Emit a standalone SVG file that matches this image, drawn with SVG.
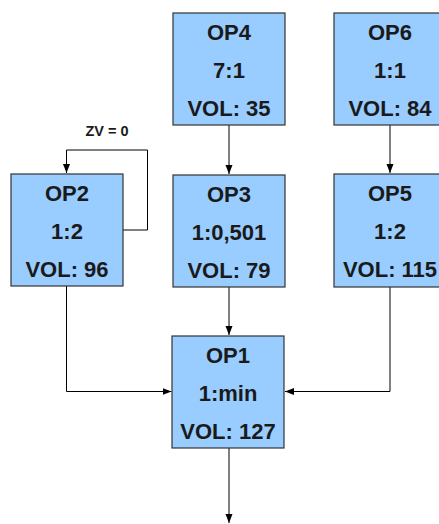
<svg xmlns="http://www.w3.org/2000/svg" width="439" height="524" viewBox="0 0 439 524">
<style>
.box{fill:#99ccff;stroke:#333333;stroke-width:1.2}
.t{font-family:"Liberation Sans",Arial,sans-serif;font-weight:bold;font-size:22px;fill:#1a1a1a;text-anchor:middle}
.lbl{font-family:"Liberation Sans",Arial,sans-serif;font-weight:bold;font-size:14.5px;fill:#1a1a1a;text-anchor:middle}
.c{fill:none;stroke:#000;stroke-width:1}
</style>
<defs>
<marker id="ah" markerWidth="10" markerHeight="10" refX="9" refY="5" orient="auto" markerUnits="userSpaceOnUse">
<path d="M0,1.5 L9,5 L0,8.5 Z" fill="#000"/>
</marker>
</defs>
<g id="connectors">
<path class="c" d="M123,230 H147.5 V150 H66.5 V173" marker-end="url(#ah)"/>
<path class="c" d="M229,125 V174" marker-end="url(#ah)"/>
<path class="c" d="M390,125 V173" marker-end="url(#ah)"/>
<path class="c" d="M229,287 V335" marker-end="url(#ah)"/>
<path class="c" d="M66.5,286 V391.5 H171.5" marker-end="url(#ah)"/>
<path class="c" d="M390,287 V391.5 H285" marker-end="url(#ah)"/>
<path class="c" d="M229,448 V523" marker-end="url(#ah)"/>
<text class="lbl" x="107" y="135.5">ZV = 0</text>
</g>
<g id="OP4">
<rect class="box" x="173" y="13" width="112" height="112"/>
<text class="t" x="229" y="40">OP4</text>
<text class="t" x="229" y="77.5">7:1</text>
<text class="t" x="229" y="116">VOL: 35</text>
</g>
<g id="OP6">
<rect class="box" x="334" y="13" width="112" height="112"/>
<text class="t" x="390" y="40">OP6</text>
<text class="t" x="390" y="77.5">1:1</text>
<text class="t" x="390" y="116">VOL: 84</text>
</g>
<g id="OP2">
<rect class="box" x="11" y="174" width="112" height="112"/>
<text class="t" x="67" y="200.5">OP2</text>
<text class="t" x="67" y="239">1:2</text>
<text class="t" x="67" y="277">VOL: 96</text>
</g>
<g id="OP3">
<rect class="box" x="173" y="175" width="112" height="112"/>
<text class="t" x="229" y="201.5">OP3</text>
<text class="t" x="229" y="239.5">1:0,501</text>
<text class="t" x="229" y="277.5">VOL: 79</text>
</g>
<g id="OP5">
<rect class="box" x="334" y="174" width="112" height="113"/>
<text class="t" x="390" y="200.5">OP5</text>
<text class="t" x="390" y="239">1:2</text>
<text class="t" x="390" y="277">VOL: 115</text>
</g>
<g id="OP1">
<rect class="box" x="172" y="336" width="112" height="112"/>
<text class="t" x="228" y="362.5">OP1</text>
<text class="t" x="228" y="400.5">1:min</text>
<text class="t" x="228" y="439">VOL: 127</text>
</g>
</svg>
